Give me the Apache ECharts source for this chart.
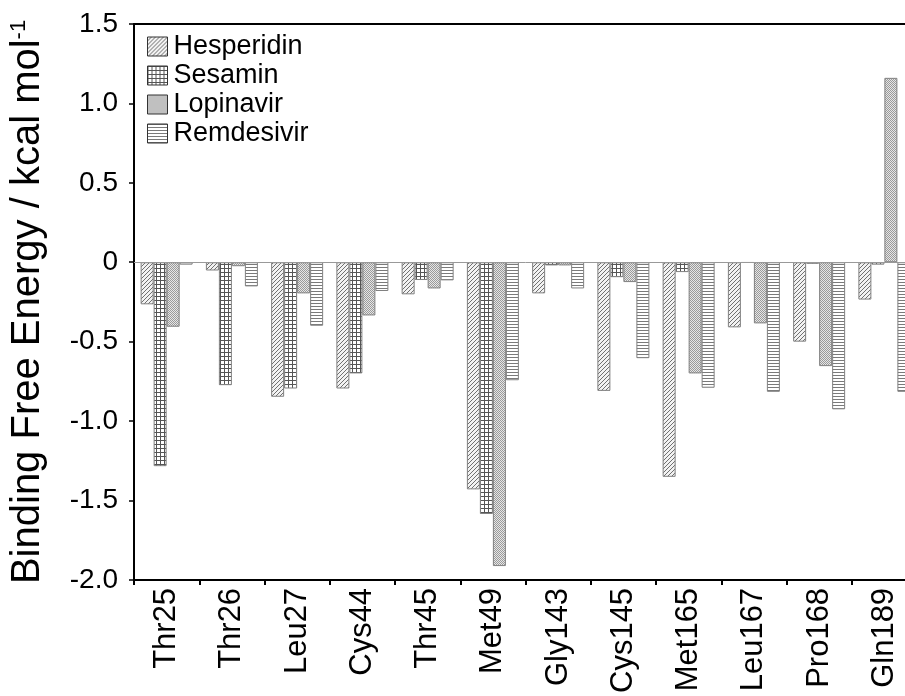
<!DOCTYPE html>
<html>
<head>
<meta charset="utf-8">
<script src="https://cdn.jsdelivr.net/npm/echarts@6/dist/echarts.min.js"></script>
<style>
html,body{margin:0;padding:0;background:#fff;overflow:hidden;width:905px;height:696px;}
#chart{width:921px;height:696px;}
</style>
</head>
<body>
<div id="chart"></div>
<script>
const categories = ['Thr25','Thr26','Leu27','Cys44','Thr45','Met49','Gly143','Cys145','Met165','Leu167','Pro168','Gln189'];
const hesperidin = [-0.265,-0.052,-0.847,-0.795,-0.202,-1.43,-0.196,-0.81,-1.351,-0.41,-0.50,-0.235];
const sesamin    = [-1.284,-0.774,-0.795,-0.70,-0.112,-1.585,-0.02,-0.094,-0.062,-0.003,-0.01,-0.015];
const lopinavir  = [-0.406,-0.025,-0.196,-0.335,-0.165,-1.913,-0.02,-0.125,-0.70,-0.385,-0.654,1.161];
const remdesivir = [-0.015,-0.152,-0.40,-0.181,-0.114,-0.743,-0.165,-0.604,-0.79,-0.816,-0.926,-0.816];
const yTicks = {min:-2, max:1.5, interval:0.5};

function makePattern(type){
  const c = document.createElement('canvas');
  let s = 4;
  if(type==='check'){ s=2; }
  if(type==='hline'){ s=3; }
  c.width = s; c.height = s;
  const g = c.getContext('2d');
  g.fillStyle = '#fff'; g.fillRect(0,0,s,s);
  if(type==='diag'){
    g.fillStyle = '#f2f2f2'; g.fillRect(0,0,s,s);
    g.strokeStyle = '#707070'; g.lineWidth = 1;
    g.beginPath();
    g.moveTo(-1,s+1); g.lineTo(s+1,-1);
    g.moveTo(-1+s, s+1+s); g.lineTo(s+1+s, -1+s);
    g.moveTo(-1-s, s+1-s); g.lineTo(s+1-s, -1-s);
    g.stroke();
  } else if(type==='grid'){
    g.fillStyle = '#555';
    g.fillRect(0,0,s,1);
    g.fillRect(0,0,1,s);
  } else if(type==='check'){
    g.fillStyle = '#e6e6e6'; g.fillRect(0,0,2,2);
    g.fillStyle = '#9a9a9a'; g.fillRect(0,0,1,1); g.fillRect(1,1,1,1);
  } else if(type==='hline'){
    g.fillStyle = '#7a7a7a'; g.fillRect(0,0,s,1);
  }
  return {image:c, repeat:'repeat'};
}

const FONT = 'Liberation Sans, Arial, sans-serif';
const names = ['Hesperidin','Sesamin','Lopinavir','Remdesivir'];
const datas = [hesperidin, sesamin, lopinavir, remdesivir];
const pats = ['diag','grid','check','hline'];

const series = names.map((n,i)=>({
  name:n, type:'bar', data:datas[i], barWidth:13, barGap:'0%',
  itemStyle:{color:makePattern(pats[i]), borderColor:'#808080', borderWidth:1},
  emphasis:{disabled:true},
  markLine: i===0 ? {silent:true, symbol:'none', label:{show:false},
    lineStyle:{color:'#999', width:1, type:'solid'}, data:[{yAxis:0}]} : undefined
}));

const chart = echarts.init(document.getElementById('chart'), null, {renderer:'canvas'});
chart.setOption({
  animation:false,
  backgroundColor:'#fff',
  grid:{left:134, top:24, bottom:113, right:4},
  legend:{
    left:147, top:33, orient:'vertical', padding:0, itemGap:2,
    itemWidth:20, itemHeight:19, icon:'rect',
    textStyle:{fontFamily:FONT, fontSize:27, color:'#000', lineHeight:27, padding:[0,0,0,1]},
    data:names.map(n=>({name:n, itemStyle:{borderColor:'#333', borderWidth:1}}))
  },
  xAxis:[{
    type:'category', data:categories, position:'bottom',
    axisLine:{onZero:false, lineStyle:{color:'#000', width:2}},
    axisTick:{show:true, length:5, lineStyle:{color:'#000', width:2}},
    axisLabel:{rotate:90, margin:8, fontFamily:FONT, fontSize:31, color:'#000'}
  },{
    type:'category', data:categories, position:'top',
    axisLine:{onZero:false, lineStyle:{color:'#000', width:2}},
    axisTick:{show:false}, axisLabel:{show:false}
  }],
  yAxis:{
    type:'value', min:yTicks.min, max:yTicks.max, interval:yTicks.interval,
    splitLine:{show:false},
    axisLine:{show:true, lineStyle:{color:'#000', width:2}},
    axisTick:{show:true, length:5, lineStyle:{color:'#000', width:1.5}},
    axisLabel:{margin:16, fontFamily:FONT, fontSize:28, color:'#000',
      formatter:v=> v===0 ? '0' : v.toFixed(1)},
    name:'Binding Free Energy / kcal mol{sup|-1}',
    nameLocation:'middle', nameGap:86, nameRotate:90,
    nameTextStyle:{fontFamily:FONT, fontSize:40, color:'#000',
      rich:{sup:{fontFamily:FONT, fontSize:22, color:'#000', verticalAlign:'top'}}}
  },
  series:series
});
</script>
</body>
</html>
